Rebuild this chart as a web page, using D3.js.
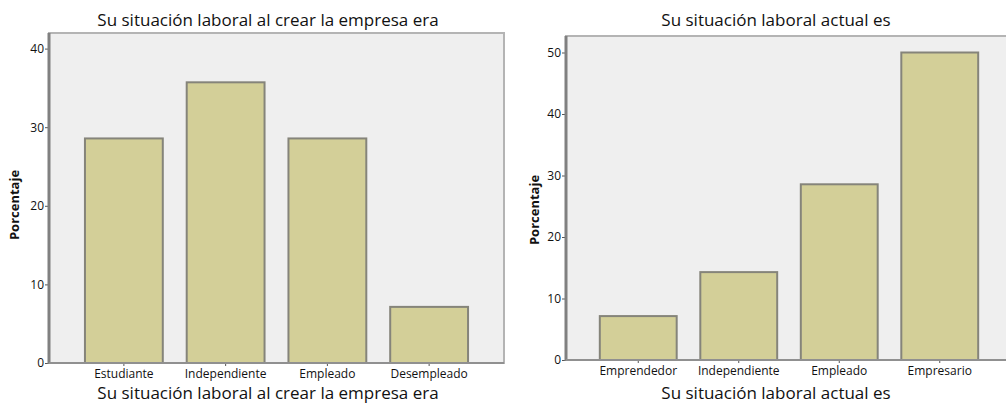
<!DOCTYPE html>
<html>
<head>
<meta charset="utf-8">
<script src="https://cdn.jsdelivr.net/npm/d3@7"></script>
<style>
  body { margin: 0; background: #fff; }
  text { font-family: "Open Sans", sans-serif; fill: #111; }
</style>
</head>
<body>
<div id="chart"></div>
<script>
// Data
const startCategories = ["Estudiante", "Independiente", "Empleado", "Desempleado"]
const startValues = [28.57, 35.71, 28.57, 7.14]
const startTicks = [0, 10, 20, 30, 40]
const startTitle = "Su situación laboral al crear la empresa era"

const nowCategories = ["Emprendedor", "Independiente", "Empleado", "Empresario"]
const nowValues = [7.14, 14.29, 28.57, 50]
const nowTicks = [0, 10, 20, 30, 40, 50]
const nowTitle = "Su situación laboral actual es"

const yLabel = "Porcentaje"

const WIDTH = 1006
const HEIGHT = 405

let svg = d3.select("#chart").append("svg")
    .attr("width", WIDTH)
    .attr("height", HEIGHT)

function drawPanel(cfg) {
    const P = cfg.plot
    let g = svg.append("g")

    // plot background
    g.append("rect")
        .attr("x", P.LEFT).attr("y", P.TOP)
        .attr("width", P.RIGHT - P.LEFT).attr("height", P.BOTTOM - P.TOP)
        .style("fill", "#efefef")
        .style("stroke", "#b4b4b4")
        .style("stroke-width", 2)

    let xScale = d3.scaleBand()
        .domain(cfg.categories)
        .range([P.LEFT + cfg.inset, P.RIGHT - cfg.inset])
        .paddingInner(0.235)
        .paddingOuter(0.1175)

    let yScale = d3.scaleLinear()
        .domain([0, cfg.yMax])
        .range([P.BOTTOM, P.BOTTOM - cfg.yMax * cfg.pxPerUnit])

    // bars
    g.selectAll("rect.bar")
        .data(cfg.values)
        .enter()
        .append("rect")
            .attr("class", "bar")
            .attr("x", (d, i) => xScale(cfg.categories[i]))
            .attr("y", d => yScale(d))
            .attr("width", xScale.bandwidth())
            .attr("height", d => yScale(0) - yScale(d))
            .style("fill", "#d3cf98")
            .style("stroke", "#85847a")
            .style("stroke-width", 2)

    // y axis
    let yAxis = g.append("g")
        .attr("transform", "translate(" + P.LEFT + ",0)")
        .call(d3.axisLeft(yScale).tickValues(cfg.ticks).tickSize(4).tickPadding(1))
    yAxis.select(".domain").remove()
    yAxis.selectAll(".tick line").style("stroke", "#555")
    yAxis.selectAll("text").style("font-size", "12px")

    // x axis
    let xAxis = g.append("g")
        .attr("transform", "translate(0," + P.BOTTOM + ")")
        .call(d3.axisBottom(xScale).tickSize(3).tickPadding(3))
    xAxis.select(".domain").remove()
    xAxis.selectAll(".tick line").style("stroke", "#555")
    xAxis.selectAll("text").style("font-size", "12px")

    // axis lines (darker left and bottom edges of the frame)
    g.append("line")
        .attr("x1", P.LEFT).attr("x2", P.LEFT)
        .attr("y1", P.TOP).attr("y2", P.BOTTOM + 1)
        .style("stroke", "#808080").style("stroke-width", 3)
    g.append("line")
        .attr("x1", P.LEFT).attr("x2", P.RIGHT)
        .attr("y1", P.BOTTOM).attr("y2", P.BOTTOM)
        .style("stroke", "#909090").style("stroke-width", 2)

    // titles
    g.append("text")
        .attr("x", cfg.titleX).attr("y", 26)
        .attr("text-anchor", "middle")
        .style("font-size", "17px")
        .text(cfg.title)
    g.append("text")
        .attr("x", cfg.titleX).attr("y", 399)
        .attr("text-anchor", "middle")
        .style("font-size", "17px")
        .text(cfg.title)
    g.append("text")
        .attr("transform", "translate(" + cfg.yLabelX + "," + cfg.yLabelY + ") rotate(-90)")
        .attr("text-anchor", "middle")
        .style("font-size", "13px")
        .style("font-weight", "bold")
        .text(yLabel)
}

drawPanel({
    categories: startCategories, values: startValues, ticks: startTicks, title: startTitle,
    plot: {LEFT: 49, RIGHT: 504, TOP: 33, BOTTOM: 363},
    inset: 24, yMax: 42, pxPerUnit: 7.86,
    titleX: 268, yLabelX: 19, yLabelY: 205
})

drawPanel({
    categories: nowCategories, values: nowValues, ticks: nowTicks, title: nowTitle,
    plot: {LEFT: 566, RIGHT: 1012, TOP: 36, BOTTOM: 360},
    inset: 22, yMax: 52.7, pxPerUnit: 6.15,
    titleX: 776, yLabelX: 539, yLabelY: 210
})
</script>
</body>
</html>
